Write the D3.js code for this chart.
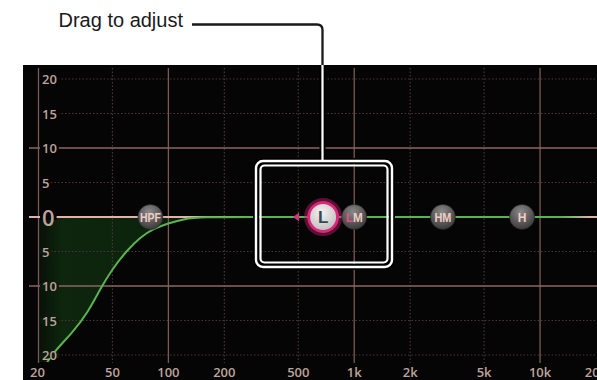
<!DOCTYPE html>
<html>
<head>
    <meta charset="utf-8">
    <title>EQ - drag to adjust</title>
    <script src="https://d3js.org/d3.v7.min.js"></script>
    <style>
        body { margin: 0; background: #fff; }
        svg { display: block; }
        .lbl { font-family: "Open Sans", "Noto Sans", sans-serif; font-weight: 600; fill: #bda39b; }
        .node-txt { font-family: "Liberation Sans", Arial, sans-serif; font-weight: bold; }
        .callout { font-family: "Liberation Sans", Arial, Helvetica, sans-serif; font-size: 20px; fill: #1a1a1a; }
    </style>
</head>
<body>
<svg id="eq"></svg>

<script>
    // frequency axis
    var freqTicks  = [20, 50, 100, 200, 500, 1000, 2000, 5000, 10000, 20000],
        freqLabels = ["20", "50", "100", "200", "500", "1k", "2k", "5k", "10k", "20k"],
        freqSolid  = [20, 100, 1000, 10000];

    // gain axis (dB), labels shown without sign
    var gainTicks  = [20, 15, 10, 5, 0, -5, -10, -15, -20],
        gainLabels = ["20", "15", "10", "5", "0", "5", "10", "15", "20"],
        gainSolid  = [10, -10];

    // HPF response
    var curveFreq = [20, 24, 30, 37, 43, 50, 60, 71, 83, 100, 120, 150, 300, 1000, 20000],
        curveGain = [-23, -19.6, -17, -13.8, -10.4, -7.5, -4.8, -2.9, -1.7, -0.9, -0.3, 0, 0, 0, 0];

    // band handles
    var bandNames = ["HPF", "L", "LM", "HM", "H"],
        bandFreq  = [80, 680, 1000, 3000, 8000],
        bandGain  = [0, 0, 0, 0, 0];

    var width = 597, height = 380;

    var svg = d3.select("#eq").attr("width", width).attr("height", height);
    var defs = svg.append("defs");

    var x = d3.scaleLog().domain([20, 20000]).range([38.5, 596]),
        y = d3.scaleLinear().domain([20, -20]).range([79, 355]);

    //panel
    svg.append("rect").attr("x", 23).attr("y", 65).attr("width", width - 23).attr("height", height - 65).attr("fill", "#050505");

    defs.append("clipPath").attr("id", "plotclip").append("rect")
        .attr("x", x(20)).attr("y", 66).attr("width", width - x(20)).attr("height", 296);
    defs.append("clipPath").attr("id", "panelclip").append("rect")
        .attr("x", 23).attr("y", 65).attr("width", width - 23).attr("height", height - 65);
    defs.append("clipPath").attr("id", "outclip").append("rect")
        .attr("x", 0).attr("y", 0).attr("width", width).attr("height", 65);

    var pts = curveFreq.map(function(f, i) { return [f, curveGain[i]]; });

    //response fill (behind grid)
    var fillGrad = defs.append("linearGradient").attr("id", "fillgrad")
        .attr("gradientUnits", "userSpaceOnUse").attr("x1", x(20)).attr("x2", 200).attr("y1", 0).attr("y2", 0);
    fillGrad.append("stop").attr("offset", 0).attr("stop-color", "#071107");
    fillGrad.append("stop").attr("offset", 0.15).attr("stop-color", "#0d260d");
    fillGrad.append("stop").attr("offset", 0.7).attr("stop-color", "#0c220c");
    fillGrad.append("stop").attr("offset", 1).attr("stop-color", "#091709");

    svg.append("g").attr("clip-path", "url(#plotclip)")
        .append("path").datum(pts.filter(function(p) { return p[0] <= 300; }))
        .attr("d", d3.area().curve(d3.curveBasis)
            .x(function(p) { return x(p[0]); })
            .y0(y(0))
            .y1(function(p) { return y(p[1]); }))
        .attr("fill", "url(#fillgrad)");

    var grid = svg.append("g");

    //vertical grid
    freqTicks.slice(1, -1).forEach(function(f) {
        var solid = freqSolid.indexOf(f) >= 0;
        grid.append("line")
            .attr("x1", x(f)).attr("x2", x(f)).attr("y1", 68).attr("y2", 363)
            .attr("stroke", solid ? "#7b5a54" : "#4a3634")
            .attr("stroke-width", solid ? 1.3 : 1.2)
            .attr("stroke-dasharray", solid ? null : "1.5,2");
    });
    grid.append("line").attr("x1", x(20)).attr("x2", x(20)).attr("y1", 68).attr("y2", 363)
        .attr("stroke", "#7b5a54").attr("stroke-width", 1.3);

    //horizontal grid
    gainTicks.forEach(function(gv) {
        var solid = gainSolid.indexOf(gv) >= 0;
        if (gv === 0) return;
        grid.append("line")
            .attr("x1", solid ? 29 : 44).attr("x2", width).attr("y1", y(gv)).attr("y2", y(gv))
            .attr("stroke", solid ? "#8a6660" : "#4a3634")
            .attr("stroke-width", solid ? 1.3 : 1.2)
            .attr("stroke-dasharray", solid ? null : "1.5,2");
    });

    //0 dB line
    grid.append("line").attr("x1", 29).attr("x2", width).attr("y1", y(0)).attr("y2", y(0))
        .attr("stroke", "#e2b2a7").attr("stroke-width", 2.2);

    //response line
    var lineGrad = defs.append("linearGradient").attr("id", "linegrad")
        .attr("gradientUnits", "userSpaceOnUse").attr("x1", 520).attr("x2", 590).attr("y1", 0).attr("y2", 0);
    lineGrad.append("stop").attr("offset", 0).attr("stop-color", "#58b44e").attr("stop-opacity", 1);
    lineGrad.append("stop").attr("offset", 0.6).attr("stop-color", "#58b44e").attr("stop-opacity", 1);
    lineGrad.append("stop").attr("offset", 1).attr("stop-color", "#58b44e").attr("stop-opacity", 0);

    svg.append("g").attr("clip-path", "url(#plotclip)")
        .append("path").datum(pts)
        .attr("d", d3.line().curve(d3.curveBasis)
            .x(function(p) { return x(p[0]); })
            .y(function(p) { return y(p[1]); }))
        .attr("fill", "none").attr("stroke", "url(#linegrad)").attr("stroke-width", 2);

    //y labels with black backing
    var yl = svg.append("g");
    gainTicks.forEach(function(gv, i) {
        var t = yl.append("text").attr("class", "lbl")
            .attr("x", 42).attr("y", y(gv))
            .attr("dominant-baseline", "central")
            .style("font-size", gv === 0 ? "22px" : "13px")
            .text(gainLabels[i]);
        var bb = t.node().getBBox();
        yl.insert("rect", "text").attr("x", bb.x - 2).attr("y", y(gv) - 3).attr("width", bb.width + 4).attr("height", 6)
            .attr("fill", gv < 0 ? "#0b1b0b" : "#050505");
    });

    //x labels
    svg.append("g").selectAll("text").data(freqTicks).enter().append("text")
        .attr("class", "lbl").style("font-size", "13px")
        .attr("x", function(f) { return f === 20 ? x(f) - 1 : x(f); })
        .attr("y", 377)
        .attr("text-anchor", "middle")
        .text(function(f, i) { return freqLabels[i]; });

    //handles
    var grayGrad = defs.append("radialGradient").attr("id", "graynode").attr("cx", "45%").attr("cy", "30%").attr("r", "75%");
    grayGrad.append("stop").attr("offset", 0).attr("stop-color", "#8a8888");
    grayGrad.append("stop").attr("offset", 1).attr("stop-color", "#363434");
    var whiteGrad = defs.append("radialGradient").attr("id", "whitenode").attr("cx", "45%").attr("cy", "35%").attr("r", "70%");
    whiteGrad.append("stop").attr("offset", 0).attr("stop-color", "#f4f2f2");
    whiteGrad.append("stop").attr("offset", 1).attr("stop-color", "#bcb8b9");

    var nodes = svg.append("g");
    bandNames.forEach(function(name, i) {
        var cx = x(bandFreq[i]), cy = y(bandGain[i]);
        if (name === "L") {
            nodes.append("path")
                .attr("d", "M" + (cx - 30) + "," + cy + "l6,-4.5v9z")
                .attr("fill", "#d8327e");
            nodes.append("circle").attr("cx", cx).attr("cy", cy).attr("r", 17.5)
                .attr("fill", "none").attr("stroke", "#c8206e").attr("stroke-opacity", 0.45).attr("stroke-width", 3);
            nodes.append("circle").attr("cx", cx).attr("cy", cy).attr("r", 14.5)
                .attr("fill", "url(#whitenode)").attr("stroke", "#d8287a").attr("stroke-width", 3);
            nodes.append("text").attr("class", "node-txt")
                .attr("x", cx).attr("y", cy + 6).attr("text-anchor", "middle")
                .style("font-size", "17px").attr("fill", "#2f4b50").text(name);
            return;
        }
        nodes.append("circle").attr("cx", cx).attr("cy", cy).attr("r", 12.5)
            .attr("fill", "url(#graynode)").attr("stroke", "#222").attr("stroke-width", 0.6);
        var t = nodes.append("text").attr("class", "node-txt")
            .attr("x", cx).attr("y", cy + 4.5).attr("text-anchor", "middle")
            .style("font-size", "12px").attr("fill", "#efcdc4");
        if (name === "LM") {
            t.append("tspan").attr("fill", "#e2507f").text("L");
            t.append("tspan").text("M");
        } else {
            t.text(name);
        }
        if (name.length > 1) t.attr("textLength", name.length === 3 ? 21 : 17).attr("lengthAdjust", "spacingAndGlyphs");
    });

    //callout
    var callPath = "M192,24.5H317Q322.5,24.5 322.5,30V161";
    svg.append("path").attr("d", callPath).attr("clip-path", "url(#outclip)")
        .attr("fill", "none").attr("stroke", "#1a1a1a").attr("stroke-width", 2.3);
    var cp = svg.append("g").attr("clip-path", "url(#panelclip)");
    cp.append("path").attr("d", callPath).attr("fill", "none").attr("stroke", "#000").attr("stroke-width", 6);
    cp.append("rect").attr("x", 256).attr("y", 161).attr("width", 136).attr("height", 106).attr("rx", 7)
        .attr("fill", "none").attr("stroke", "#000").attr("stroke-width", 6);
    cp.append("path").attr("d", callPath).attr("fill", "none").attr("stroke", "#fff").attr("stroke-width", 2.2);
    cp.append("rect").attr("x", 256).attr("y", 161).attr("width", 136).attr("height", 106).attr("rx", 7)
        .attr("fill", "none").attr("stroke", "#fff").attr("stroke-width", 2.4);
    cp.append("rect").attr("x", 260.5).attr("y", 165.5).attr("width", 127).attr("height", 97).attr("rx", 4)
        .attr("fill", "none").attr("stroke", "#fff").attr("stroke-width", 2.2);

    svg.append("text").attr("class", "callout")
        .attr("x", 183).attr("y", 27).attr("text-anchor", "end")
        .text("Drag to adjust");
</script>
</body>
</html>
